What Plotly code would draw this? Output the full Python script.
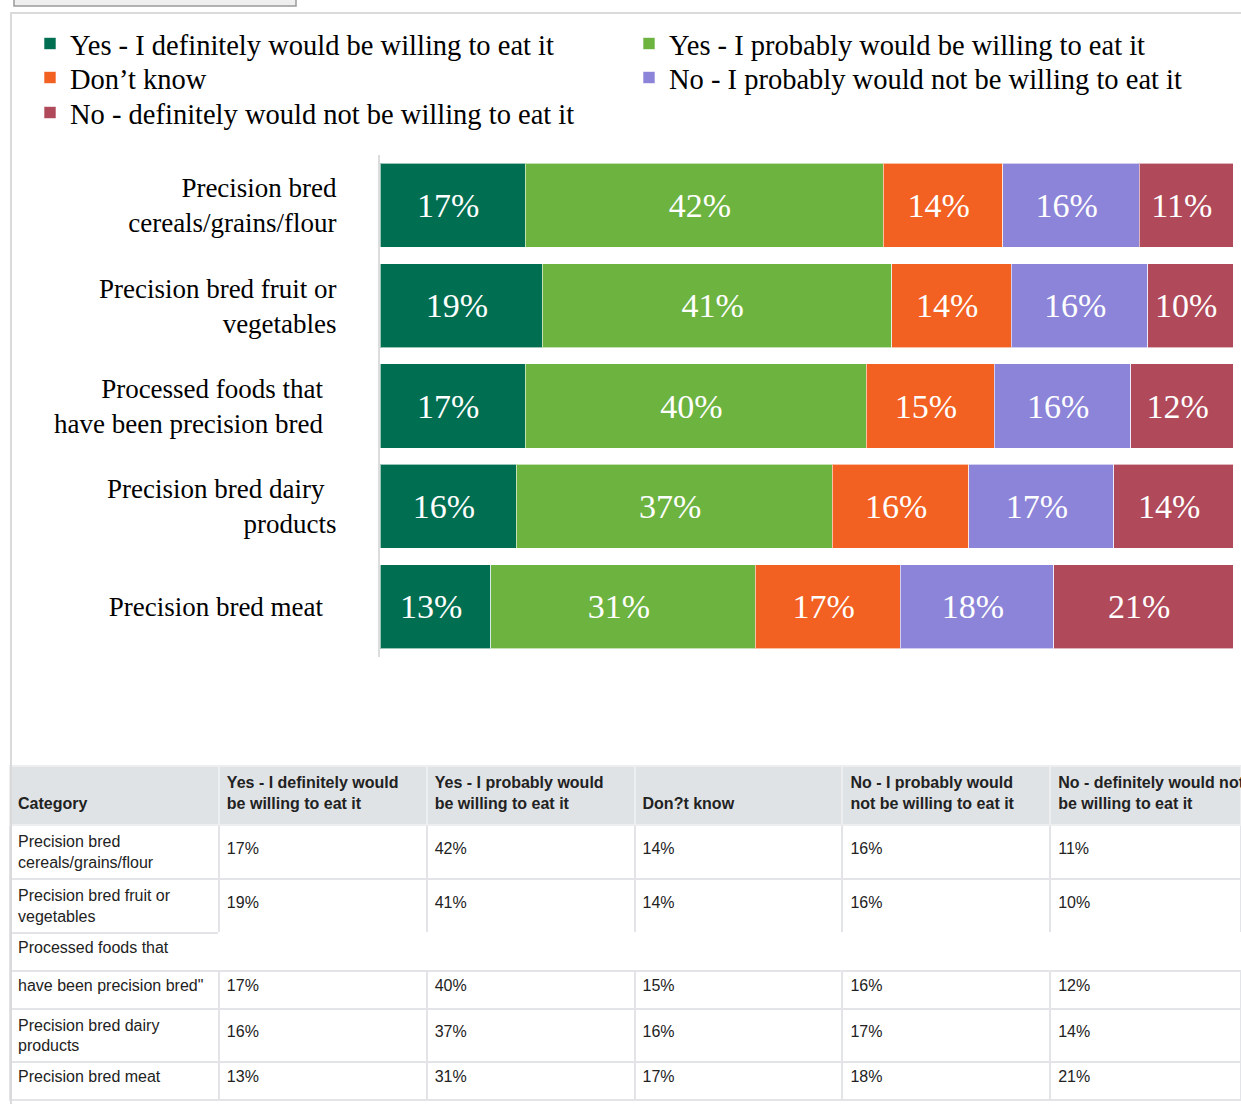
import plotly.graph_objects as go

categories = [
    "Precision bred<br>cereals/grains/flour",
    "Precision bred fruit or<br>vegetables",
    "Processed foods that\u00a0\u00a0<br>have been precision bred\u00a0\u00a0",
    "Precision bred dairy\u00a0\u2009<br>products",
    "Precision bred meat\u00a0\u00a0",
]
series_names = [
    "Yes - I definitely would be willing to eat it",
    "Yes - I probably would be willing to eat it",
    "Don\u2019t know",
    "No - I probably would not be willing to eat it",
    "No - definitely would not be willing to eat it",
]
definitely_yes = [17, 19, 17, 16, 13]
probably_yes = [42, 41, 40, 37, 31]
dont_know = [14, 14, 15, 16, 17]
probably_no = [16, 16, 16, 17, 18]
definitely_no = [11, 10, 12, 14, 21]
series_values = [definitely_yes, probably_yes, dont_know, probably_no, definitely_no]
colors = ["#006e51", "#6db33f", "#f26122", "#8c84d8", "#b0495a"]
legend_ids = ["legend", "legend", "legend2", "legend2", "legend3"]

table_categories = [
    "Precision bred<br>cereals/grains/flour",
    "Precision bred fruit or<br>vegetables",
    "Processed foods that",
    "have been precision bred\"",
    "Precision bred dairy<br>products",
    "Precision bred meat",
]
table_headers = [
    "Category",
    "Yes - I definitely would<br>be willing to eat it",
    "Yes - I probably would<br>be willing to eat it",
    "Don?t know",
    "No - I probably would<br>not be willing to eat it",
    "No - definitely would not<br>be willing to eat it",
]

W, H = 1241, 1104
SERIF = "Liberation Serif, Times New Roman, serif"
SANS = "Liberation Sans, Arial, sans-serif"

fig = go.Figure()
for name, vals, col, lg in zip(series_names, series_values, colors, legend_ids):
    fig.add_trace(go.Bar(
        y=categories, x=vals, name=name, orientation="h",
        marker=dict(color=col, line=dict(color="rgba(255,255,255,0.6)", width=1)),
        text=[f"{v}%\u00a0" for v in vals], textposition="inside",
        insidetextanchor="middle", textangle=0,
        textfont=dict(family=SERIF, size=34, color="white"),
        legend=lg, hoverinfo="skip",
    ))

# table values built from the series arrays (blank continuation row);
# single values in two-line rows get a leading break to sit lower in the cell
two_line_rows = [i for i, t in enumerate(table_categories) if "<br>" in t]

def col_vals(vals):
    out = [f"{v}%" for v in vals]
    out = out[:2] + [""] + out[2:]
    return [("<br>" + s if i in two_line_rows else s) for i, s in enumerate(out)]

cell_values = [table_categories] + [col_vals(v) for v in series_values]
line_gray = "#e2e4e7"
ncols = len(cell_values)
nrows = len(table_categories)
line_colors = []
for c in range(ncols):
    colc = []
    for r in range(nrows):
        if r == 2 and c > 0:
            colc.append("white")
        else:
            colc.append(line_gray)
    line_colors.append(colc)

header_vals = [f"<b>{h}</b>" if "<br>" in h else f"\u00a0<br><b>{h}</b>" for h in table_headers]

fig.add_trace(go.Table(
    domain=dict(x=[10 / W, 1], y=[0, 1 - 766 / H]),
    columnwidth=[208, 207, 207, 207, 207, 190],
    header=dict(values=header_vals,
                fill_color="#e0e3e6", line=dict(color="#eceef0", width=2),
                align="left", height=59,
                font=dict(family=SANS, size=16, color="#222222")),
    cells=dict(values=cell_values, fill_color="white",
               line=dict(color=line_colors, width=2),
               align="left", height=38,
               font=dict(family=SANS, size=16, color="#222222")),
))

legend_common = dict(orientation="h", xanchor="left", yanchor="middle",
                     font=dict(family=SERIF, size=28.5, color="black"),
                     entrywidth=554, entrywidthmode="pixels",
                     bgcolor="rgba(0,0,0,0)", traceorder="normal")
lx = 30 / W
fig.update_layout(
    width=W, height=H, autosize=False,
    margin=dict(l=0, r=0, t=0, b=0),
    paper_bgcolor="white", plot_bgcolor="white",
    barmode="stack", bargap=0.163,
    showlegend=True,
    legend=dict(x=lx, y=1 - 44 / H, **legend_common),
    legend2=dict(x=lx, y=1 - 78 / H, **legend_common),
    legend3=dict(x=lx, y=1 - 113 / H, **legend_common),
    xaxis=dict(domain=[380 / W, 1233 / W], range=[0, 100], visible=False,
               fixedrange=True),
    yaxis=dict(domain=[1 - 657 / H, 1 - 155 / H], autorange="reversed",
               showline=True, linecolor="#dcdcdc", linewidth=2,
               showgrid=False, ticks="", ticklabelstandoff=36,
               tickfont=dict(family=SERIF, size=27, color="black"),
               fixedrange=True),
    shapes=[
        dict(type="rect", xref="paper", yref="paper",
             x0=14 / W, x1=296 / W, y0=1 - 6 / H, y1=1.02,
             fillcolor="#efefef", line=dict(color="#9a9a9a", width=1.5), layer="above"),
        dict(type="line", xref="paper", yref="paper",
             x0=10 / W, x1=1, y0=1 - 13 / H, y1=1 - 13 / H,
             line=dict(color="#dadada", width=2)),
        dict(type="line", xref="paper", yref="paper",
             x0=11 / W, x1=11 / W, y0=0, y1=1 - 13 / H,
             line=dict(color="#dadada", width=2)),
    ],
)

fig.write_html(
    "out.html",
    config={"displayModeBar": False},
    post_script="document.body.style.margin='0';document.body.style.overflow='hidden';",
)
